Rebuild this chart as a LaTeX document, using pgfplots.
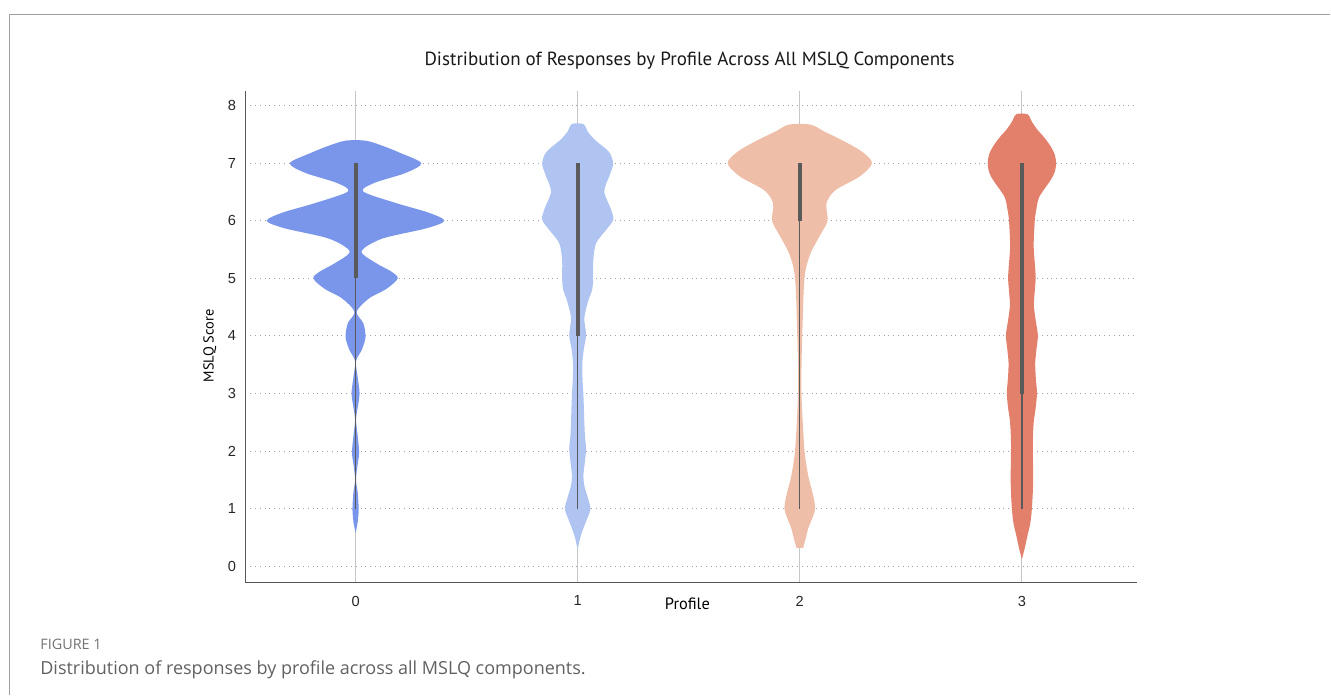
\documentclass[border=0pt]{standalone}
\usepackage{fontspec}
\setmainfont{Open Sans}
\newfontfamily\ptsans{PT Sans}
\newfontfamily\arial{Liberation Sans}
\usepackage{pgfplots}
\pgfplotsset{compat=1.18}
\usepackage{pgfplotstable}

\definecolor{vzero}{RGB}{122,150,234}
\definecolor{vone}{RGB}{176,196,242}
\definecolor{vtwo}{RGB}{238,190,168}
\definecolor{vthree}{RGB}{226,128,108}
\definecolor{boxgray}{RGB}{90,90,90}
\definecolor{spine}{RGB}{85,85,85}
\definecolor{framegray}{RGB}{160,160,160}

% violin outlines: dx = offset from the profile (profile units),
% right side going up, then left side coming down
\pgfplotstableread{
dx y
0.000 0.58
0.009 0.75
0.014 0.98
0.010 1.27
0.002 1.50
0.008 1.73
0.016 1.97
0.010 2.25
0.002 2.54
0.008 2.72
0.018 3.00
0.009 3.30
0.002 3.56
0.028 3.76
0.045 3.98
0.035 4.22
0.005 4.42
0.060 4.65
0.140 4.82
0.190 5.00
0.160 5.12
0.090 5.27
0.027 5.47
0.120 5.69
0.320 5.87
0.400 6.00
0.330 6.14
0.180 6.31
0.034 6.51
0.086 6.66
0.225 6.83
0.296 7.00
0.200 7.18
0.130 7.29
0.047 7.39
-0.047 7.39
-0.130 7.29
-0.200 7.18
-0.296 7.00
-0.225 6.83
-0.086 6.66
-0.034 6.51
-0.180 6.31
-0.330 6.14
-0.400 6.00
-0.320 5.87
-0.120 5.69
-0.027 5.47
-0.090 5.27
-0.160 5.12
-0.190 5.00
-0.140 4.82
-0.060 4.65
-0.005 4.42
-0.035 4.22
-0.045 3.98
-0.028 3.76
-0.002 3.56
-0.009 3.30
-0.018 3.00
-0.008 2.72
-0.002 2.54
-0.010 2.25
-0.016 1.97
-0.008 1.73
-0.002 1.50
-0.010 1.27
-0.014 0.98
-0.009 0.75
}\vzerotab

\pgfplotstableread{
dx y
0.000 0.29
0.012 0.50
0.026 0.66
0.045 0.85
0.058 1.00
0.045 1.20
0.030 1.40
0.026 1.58
0.032 1.80
0.038 2.04
0.033 2.25
0.030 2.50
0.028 2.75
0.026 2.96
0.022 3.25
0.021 3.53
0.028 3.78
0.038 4.02
0.030 4.31
0.047 4.60
0.065 4.80
0.070 5.00
0.070 5.30
0.083 5.61
0.130 5.85
0.160 6.02
0.150 6.20
0.120 6.51
0.145 6.80
0.160 7.00
0.140 7.20
0.079 7.40
0.045 7.55
0.026 7.68
-0.026 7.68
-0.045 7.55
-0.079 7.40
-0.140 7.20
-0.160 7.00
-0.145 6.80
-0.120 6.51
-0.150 6.20
-0.160 6.02
-0.130 5.85
-0.083 5.61
-0.070 5.30
-0.070 5.00
-0.065 4.80
-0.047 4.60
-0.030 4.31
-0.038 4.02
-0.028 3.78
-0.021 3.53
-0.022 3.25
-0.026 2.96
-0.028 2.75
-0.030 2.50
-0.033 2.25
-0.038 2.04
-0.032 1.80
-0.026 1.58
-0.030 1.40
-0.045 1.20
-0.058 1.00
-0.045 0.85
-0.026 0.66
-0.012 0.50
}\vonetab

\pgfplotstableread{
dx y
0.015 0.32
0.028 0.50
0.038 0.66
0.058 0.85
0.069 1.00
0.062 1.20
0.041 1.52
0.030 1.75
0.022 1.98
0.015 2.38
0.008 2.96
0.008 3.53
0.013 4.24
0.018 4.82
0.027 5.16
0.050 5.45
0.090 5.74
0.125 6.00
0.120 6.30
0.160 6.53
0.270 6.77
0.325 7.00
0.280 7.20
0.190 7.40
0.110 7.55
0.049 7.67
-0.049 7.67
-0.110 7.55
-0.190 7.40
-0.280 7.20
-0.325 7.00
-0.270 6.77
-0.160 6.53
-0.120 6.30
-0.125 6.00
-0.090 5.74
-0.050 5.45
-0.027 5.16
-0.018 4.82
-0.013 4.24
-0.008 3.53
-0.008 2.96
-0.015 2.38
-0.022 1.98
-0.030 1.75
-0.041 1.52
-0.062 1.20
-0.069 1.00
-0.058 0.85
-0.038 0.66
-0.028 0.50
-0.015 0.32
}\vtwotab

\pgfplotstableread{
dx y
0.000 0.12
0.012 0.30
0.025 0.53
0.038 0.75
0.045 1.00
0.050 1.38
0.050 1.79
0.049 2.14
0.053 2.49
0.062 2.75
0.068 3.01
0.063 3.25
0.060 3.53
0.066 3.78
0.072 4.01
0.063 4.25
0.054 4.53
0.058 4.78
0.062 5.00
0.059 5.22
0.053 5.56
0.058 6.00
0.065 6.20
0.079 6.42
0.130 6.71
0.148 6.85
0.154 7.00
0.148 7.15
0.130 7.29
0.100 7.45
0.070 7.58
0.045 7.72
0.025 7.85
-0.025 7.85
-0.045 7.72
-0.070 7.58
-0.100 7.45
-0.130 7.29
-0.148 7.15
-0.154 7.00
-0.148 6.85
-0.130 6.71
-0.079 6.42
-0.065 6.20
-0.058 6.00
-0.053 5.56
-0.059 5.22
-0.062 5.00
-0.058 4.78
-0.054 4.53
-0.063 4.25
-0.072 4.01
-0.066 3.78
-0.060 3.53
-0.063 3.25
-0.068 3.01
-0.062 2.75
-0.053 2.49
-0.049 2.14
-0.050 1.79
-0.050 1.38
-0.045 1.00
-0.038 0.75
-0.025 0.53
-0.012 0.30
}\vthreetab

\begin{document}
\begin{tikzpicture}
% canvas 1331x695 px at 0.5pt per px
\path (0,0) rectangle (665.5pt,347.5pt);
\draw[framegray, line width=0.6pt] (4.65pt,0) -- (4.65pt,340.15pt) -- (665.5pt,340.15pt);

\begin{axis}[
    at={(122.75pt,56.15pt)}, anchor=south west,
    scale only axis,
    width=445.75pt, height=246pt,
    xmin=-0.496, xmax=3.516,
    ymin=-0.281, ymax=8.26,
    axis x line=bottom, axis y line=left,
    axis line style={spine, line width=0.75pt, -},
    xtick={0,1,2,3}, ytick={0,1,...,8},
    major tick length=0pt,
    ymajorgrids, xmajorgrids,
    y grid style={gray!75, dotted, line width=0.5pt},
    x grid style={black!22, line width=0.6pt},
    /pgf/number format/assume math mode=true,
    ticklabel style={font=\arial\fontsize{7.3}{8}\selectfont, text=black!85},
    yticklabel style={xshift=-1.2pt},
    xticklabel style={yshift=-3.2pt},
    title={Distribution of Responses by Profile Across All MSLQ Components},
    title style={font=\ptsans\fontsize{9.5}{10}\selectfont, text=black!90, at={(axis description cs:0.4985,1)}, anchor=center, yshift=8.85pt},
    xlabel={Profile},
    xlabel style={font=\ptsans\fontsize{8.2}{9}\selectfont, at={(axis description cs:0.496,0)}, anchor=center, yshift=-10.65pt},
    ylabel={MSLQ Score},
    ylabel style={font=\ptsans\fontsize{7.2}{8}\selectfont, at={(axis description cs:0,0.481)}, anchor=center, yshift=17.75pt},
]
\addplot[fill=vzero, draw=none, smooth] table[x expr=0+\thisrow{dx}, y=y] {\vzerotab} -- cycle;
\addplot[fill=vone, draw=none, smooth] table[x expr=1+\thisrow{dx}, y=y] {\vonetab} -- cycle;
\addplot[fill=vtwo, draw=none, smooth] table[x expr=2+\thisrow{dx}, y=y] {\vtwotab} -- cycle;
\addplot[fill=vthree, draw=none, smooth] table[x expr=3+\thisrow{dx}, y=y] {\vthreetab} -- cycle;

% inner box: whiskers
\addplot[boxgray, line width=0.65pt] coordinates {(0,1) (0,5)};
\addplot[boxgray, line width=0.65pt] coordinates {(1,1) (1,4)};
\addplot[boxgray, line width=0.65pt] coordinates {(2,1) (2,6)};
\addplot[boxgray, line width=0.65pt] coordinates {(3,1) (3,3)};
% inner box: interquartile range
\addplot[boxgray, line width=2pt] coordinates {(0,5) (0,7)};
\addplot[boxgray, line width=2pt] coordinates {(1,4) (1,7)};
\addplot[boxgray, line width=2pt] coordinates {(2,6) (2,7)};
\addplot[boxgray, line width=2pt] coordinates {(3,3) (3,7)};
\end{axis}

\node[anchor=base west, inner sep=0pt, text=black!55, font=\fontsize{7.2}{8}\selectfont] at (20pt,22.5pt) {FIGURE 1};
\node[anchor=base west, inner sep=0pt, text=black!62, font=\fontsize{9}{10}\selectfont] at (20pt,10pt) {Distribution of responses by profile across all MSLQ components.};
\end{tikzpicture}
\end{document}
